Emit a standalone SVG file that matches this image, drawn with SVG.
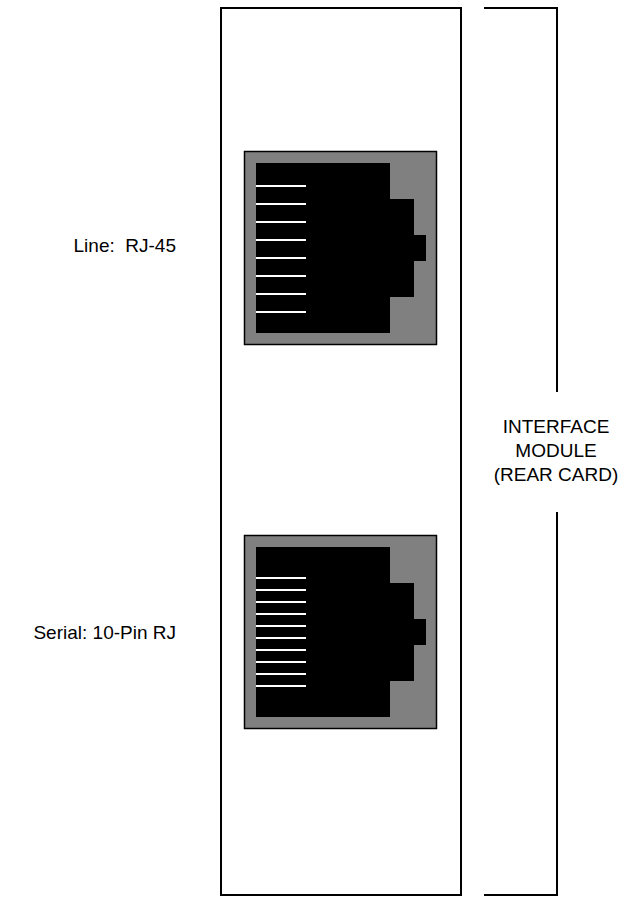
<svg xmlns="http://www.w3.org/2000/svg" width="631" height="898" viewBox="0 0 631 898">
<style>
.ln{fill:none;stroke:#000;stroke-width:2}
.box{fill:#808080;stroke:#000;stroke-width:1.5}
.body{fill:#000}
.pin{stroke:#fff;stroke-width:2}
.lbl{font-family:"Liberation Sans",Arial,sans-serif;font-size:19px;fill:#000}
</style>
<rect width="631" height="898" fill="#fff"/>
<g id="card">
<rect class="ln" x="221" y="8" width="240" height="887"/>
</g>
<g id="rj45">
<rect class="box" x="244.5" y="151.5" width="192" height="193"/>
<path class="body" d="M256 163 H390 V199 H414 V235 H426 V261 H414 V297 H390 V333 H256 Z"/>
<g class="pin">
<line x1="256" y1="186" x2="306" y2="186"/>
<line x1="256" y1="204" x2="306" y2="204"/>
<line x1="256" y1="222" x2="306" y2="222"/>
<line x1="256" y1="240" x2="306" y2="240"/>
<line x1="256" y1="258" x2="306" y2="258"/>
<line x1="256" y1="276" x2="306" y2="276"/>
<line x1="256" y1="294" x2="306" y2="294"/>
<line x1="256" y1="312" x2="306" y2="312"/>
</g>
</g>
<g id="rj10">
<rect class="box" x="244.5" y="535.5" width="192" height="193"/>
<path class="body" d="M256 547 H390 V583 H414 V619 H426 V645 H414 V681 H390 V717 H256 Z"/>
<g class="pin">
<line x1="256" y1="578" x2="306" y2="578"/>
<line x1="256" y1="590" x2="306" y2="590"/>
<line x1="256" y1="602" x2="306" y2="602"/>
<line x1="256" y1="614" x2="306" y2="614"/>
<line x1="256" y1="626" x2="306" y2="626"/>
<line x1="256" y1="638" x2="306" y2="638"/>
<line x1="256" y1="650" x2="306" y2="650"/>
<line x1="256" y1="662" x2="306" y2="662"/>
<line x1="256" y1="674" x2="306" y2="674"/>
<line x1="256" y1="686" x2="306" y2="686"/>
</g>
</g>
<g id="connectors">
<polyline class="ln" points="484,8 557,8 557,392"/>
<polyline class="ln" points="557,512 557,895 484,895"/>
</g>
<g id="labels">
<text class="lbl" x="176" y="252" text-anchor="end" xml:space="preserve">Line:  RJ-45</text>
<text class="lbl" x="176" y="639" text-anchor="end">Serial: 10-Pin RJ</text>
<text class="lbl" x="556" y="433" text-anchor="middle">INTERFACE</text>
<text class="lbl" x="556" y="457" text-anchor="middle">MODULE</text>
<text class="lbl" x="556" y="481" text-anchor="middle">(REAR CARD)</text>
</g>
</svg>
